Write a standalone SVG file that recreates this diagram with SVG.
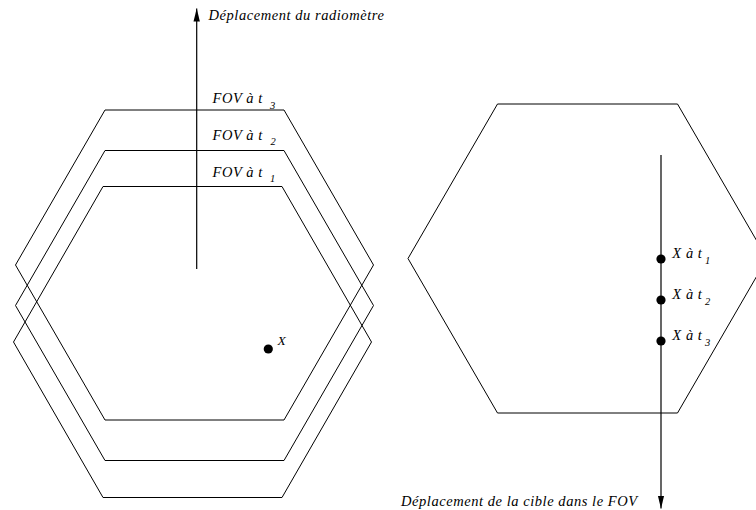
<svg xmlns="http://www.w3.org/2000/svg" width="756" height="510" viewBox="0 0 756 510">
<style>
.hex{fill:none;stroke:#000;stroke-width:1}
.ax{fill:none;stroke:#000;stroke-width:1.2}
.dot{fill:#000}
text{font-family:"Liberation Serif","Times New Roman",serif;font-style:italic;font-size:14.5px;letter-spacing:0.55px;fill:#000}
.sub{font-size:10.5px;letter-spacing:0}
</style>
<defs>
<marker id="arr" markerWidth="14" markerHeight="8" refX="13" refY="4" orient="auto" markerUnits="userSpaceOnUse">
<path d="M0,0.8 L13,4 L0,7.2 Z" fill="#000"/>
</marker>
</defs>
<rect width="756" height="510" fill="#fff"/>
<g id="fov-t3"><polygon class="hex" points="105,110 284,110 373.5,265 284,420 105,420 15.5,265"/></g>
<g id="fov-t2"><polygon class="hex" points="105,150.5 284,150.5 373.5,305.5 284,460.5 105,460.5 15.5,305.5"/></g>
<g id="fov-t1"><polygon class="hex" points="103,186.5 282,186.5 371.5,342 282,497.5 103,497.5 13.5,342"/></g>
<g id="fov-right"><polygon class="hex" points="497.5,104 677.5,104 767,258.5 677.5,413 497.5,413 408,258.5"/></g>
<g id="connectors">
<line class="ax" x1="196.7" y1="269" x2="196.7" y2="8.5" marker-end="url(#arr)"/>
<line class="ax" x1="661" y1="155" x2="661" y2="508.5" marker-end="url(#arr)"/>
</g>
<g id="labels">
<text x="208.5" y="20">Déplacement du radiomètre</text>
<text x="212.5" y="103.3">FOV à t<tspan class="sub" x="270" y="109">3</tspan></text>
<text x="212.5" y="140">FOV à t<tspan class="sub" x="270.5" y="145">2</tspan></text>
<text x="212.5" y="176.7">FOV à t<tspan class="sub" x="270" y="182">1</tspan></text>
<text x="401" y="506">Déplacement de la cible dans le FOV</text>
</g>
<g id="point-x"><circle class="dot" cx="268.3" cy="349" r="4.6"/><text x="277.5" y="345" style="font-size:13.5px">X</text></g>
<g id="x-t1"><circle class="dot" cx="661" cy="259" r="4.6"/><text x="672.3" y="258.3">X à t<tspan class="sub" x="705" y="264">1</tspan></text></g>
<g id="x-t2"><circle class="dot" cx="661" cy="300" r="4.6"/><text x="672.3" y="299.3">X à t<tspan class="sub" x="705" y="305">2</tspan></text></g>
<g id="x-t3"><circle class="dot" cx="661" cy="341" r="4.6"/><text x="672.3" y="340">X à t<tspan class="sub" x="705" y="346">3</tspan></text></g>
</svg>
